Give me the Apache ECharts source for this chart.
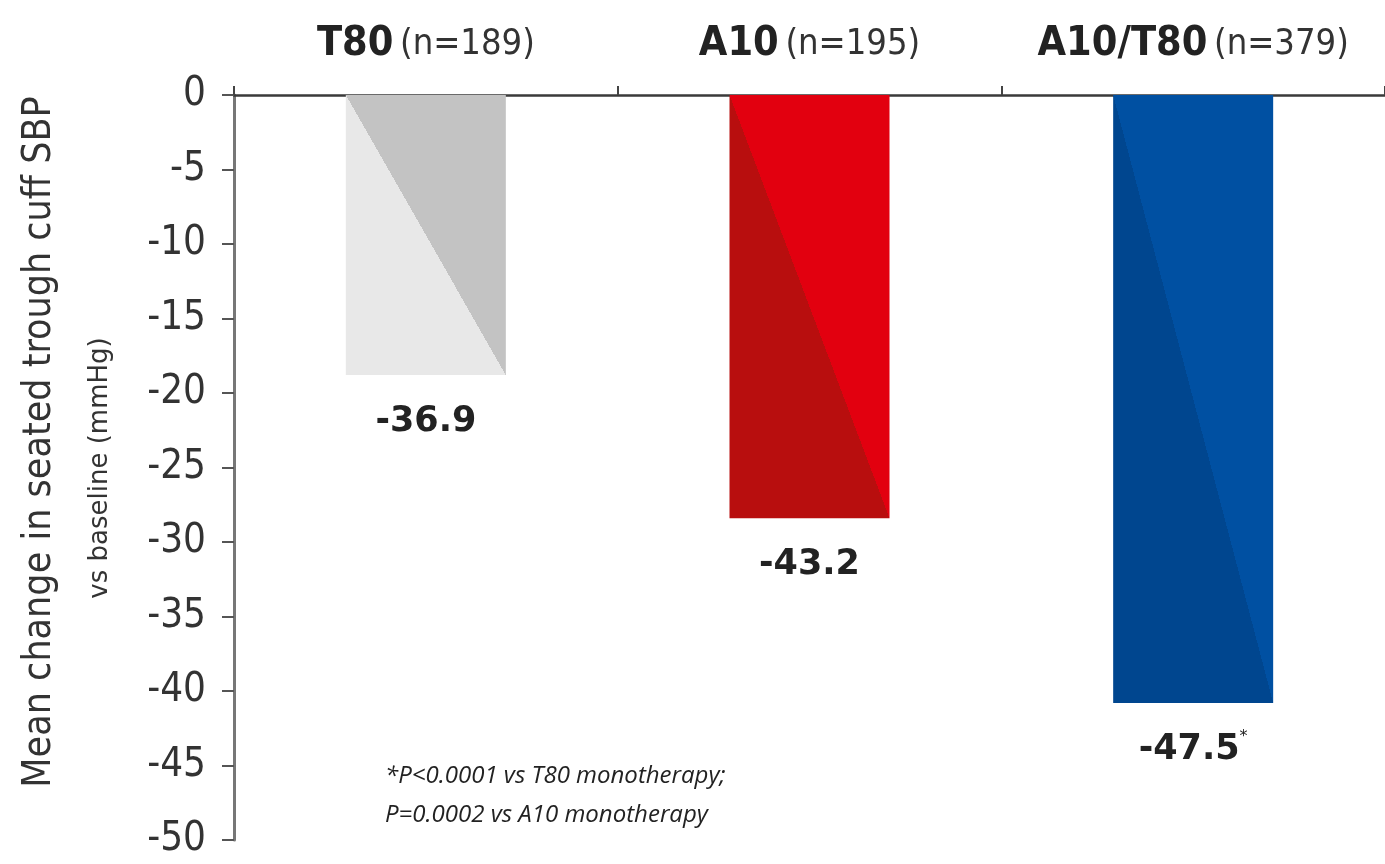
<!DOCTYPE html>
<html>
<head>
<meta charset="utf-8">
<script src="https://cdn.jsdelivr.net/npm/echarts@6/dist/echarts.min.js"></script>
<style>
  html, body { margin: 0; padding: 0; background: #fff; }
  #chart { width: 1385px; height: 864px; }
</style>
</head>
<body>
<div id="chart"></div>
<script>
  // data
  const categories = ['T80', 'A10', 'A10/T80']
  const groupSizes = ['189', '195', '379']
  const barValues = [-18.8, -28.4, -40.8]
  const valueLabels = ['-36.9', '-43.2', '-47.5']
  const valueMarks = ['', '', '*']
  const yMin = -50
  const yMax = 0
  const yStep = 5

  // light / dark halves of each bar
  const barColors = [
    ['#e8e8e8', '#c3c3c3'],
    ['#b80e0e', '#e2000f'],
    ['#00468f', '#0050a2']
  ]

  const gridTop = 95
  const gridBottom = 24
  const gridHeight = 864 - gridTop - gridBottom
  const barWidth = 160

  // hard diagonal split from top-left to bottom-right corner
  function splitFill(i) {
    const h = Math.abs(barValues[i]) / (yMax - yMin) * gridHeight
    const a = 0.5 * (h / barWidth) * (h / barWidth)
    const c = barColors[i]
    return new echarts.graphic.LinearGradient(0.5 - a, 1, 0.5 + a, 0, [
      { offset: 0, color: c[0] },
      { offset: 0.5, color: c[0] },
      { offset: 0.5, color: c[1] },
      { offset: 1, color: c[1] }
    ])
  }

  const chart = echarts.init(document.getElementById('chart'))
  chart.setOption({
    animation: false,
    grid: { left: 234, right: 0, top: gridTop, bottom: gridBottom },
    xAxis: {
      type: 'category',
      position: 'top',
      data: categories,
      axisLine: { lineStyle: { color: '#3a3a3a', width: 2.5 } },
      axisTick: { show: true, length: 9, lineStyle: { color: '#444', width: 2 } },
      axisLabel: {
        margin: 30,
        color: '#222',
        formatter: (v, i) => `{b|${v}}  {n|(n=${groupSizes[i]})}`,
        rich: {
          b: { fontFamily: 'DejaVu Sans Condensed', fontWeight: 'bold', fontSize: 41, color: '#222' },
          n: { fontFamily: 'DejaVu Sans Condensed', fontSize: 36, color: '#333' }
        }
      }
    },
    yAxis: {
      type: 'value',
      min: yMin,
      max: yMax,
      interval: yStep,
      splitLine: { show: false },
      axisLine: { show: true, lineStyle: { color: '#777', width: 3 } },
      axisTick: { show: true, length: 12, lineStyle: { color: '#555', width: 2 } },
      axisLabel: {
        margin: 28,
        fontFamily: 'DejaVu Sans Condensed',
        fontSize: 40,
        color: '#333'
      }
    },
    series: [
      {
        type: 'bar',
        barWidth: barWidth,
        data: barValues.map((v, i) => ({ value: v, itemStyle: { color: splitFill(i) } })),
        label: {
          show: true,
          position: 'bottom',
          distance: 26,
          formatter: (p) => `{v|${valueLabels[p.dataIndex]}}{s|${valueMarks[p.dataIndex]}}`,
          rich: {
            v: { fontFamily: 'DejaVu Sans', fontWeight: 'bold', fontSize: 35, color: '#222' },
            s: { fontFamily: 'DejaVu Sans', fontSize: 16, color: '#222', padding: [0, 0, 26, 0] }
          }
        }
      }
    ],
    graphic: [
      {
        type: 'text',
        x: 40,
        y: 442,
        rotation: Math.PI / 2,
        style: {
          text: 'Mean change in seated trough cuff SBP',
          font: '39px "DejaVu Sans Condensed"',
          fill: '#333',
          textAlign: 'center',
          textVerticalAlign: 'middle'
        }
      },
      {
        type: 'text',
        x: 100,
        y: 468,
        rotation: Math.PI / 2,
        style: {
          text: 'vs baseline (mmHg)',
          font: '26px "DejaVu Sans"',
          fill: '#333',
          textAlign: 'center',
          textVerticalAlign: 'middle'
        }
      },
      {
        type: 'text',
        x: 385,
        y: 776,
        style: {
          text: '*P<0.0001 vs T80 monotherapy;',
          font: 'italic 24px "Open Sans"',
          fill: '#222',
          textAlign: 'left',
          textVerticalAlign: 'middle'
        }
      },
      {
        type: 'text',
        x: 385,
        y: 815,
        style: {
          text: 'P=0.0002 vs A10 monotherapy',
          font: 'italic 24px "Open Sans"',
          fill: '#222',
          textAlign: 'left',
          textVerticalAlign: 'middle'
        }
      }
    ]
  })
</script>
</body>
</html>
